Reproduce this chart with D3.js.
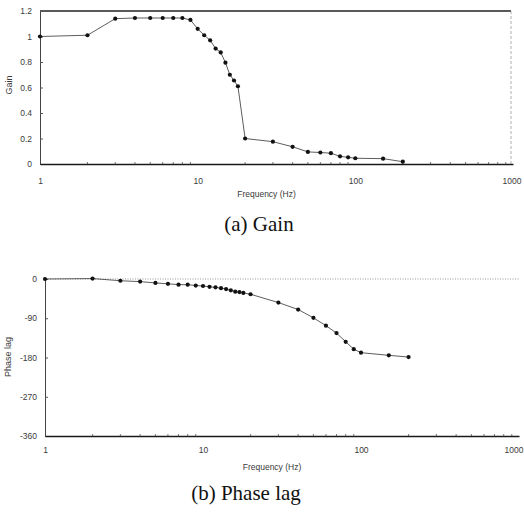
<!DOCTYPE html>
<html><head><meta charset="utf-8">
<script src="https://cdn.jsdelivr.net/npm/d3@7"></script>
<style>
html,body{margin:0;padding:0;background:#fff;}
svg{display:block;}
</style></head>
<body>
<script>
// ---- data ----
const freqGain = [1,2,3,4,5,6,7,8,9,10,11,12,13,14,15,16,17,18,20,30,40,50,60,70,80,90,100,150,200];
const gainValues = [1.00,1.01,1.14,1.145,1.145,1.145,1.145,1.145,1.13,1.06,1.01,0.97,0.905,0.875,0.795,0.70,0.655,0.61,0.20,0.175,0.135,0.095,0.09,0.085,0.06,0.052,0.045,0.042,0.018];
const freqPhase = [1,2,3,4,5,6,7,8,9,10,11,12,13,14,15,16,17,18,20,30,40,50,60,70,80,90,100,150,200];
const phaseValues = [0,1,-4,-6,-9,-11,-13,-13,-15,-16,-18,-19,-21,-23,-26,-29,-30,-32,-35,-54,-70,-89,-107,-124,-144,-161,-169,-175,-179];
const freqTicks = [1,10,100,1000];
const freqTickLabels = ["1","10","100","1000"];
const gainTicks = [0,0.2,0.4,0.6,0.8,1,1.2];
const gainTickLabels = ["0","0.2","0.4","0.6","0.8","1","1.2"];
const phaseTicks = [0,-90,-180,-270,-360];
const phaseTickLabels = ["0","-90","-180","-270","-360"];

const W = 524, H = 521;
const svg = d3.select("body").append("svg").attr("width", W).attr("height", H);
const tickFont = "'Liberation Sans', Arial, sans-serif";
const textCol = "#3a3a3a";

function minorTicks() {
  const out = [];
  for (let d = 1; d < 1000; d *= 10) for (let k = 2; k <= 9; k++) out.push(d * k);
  return out;
}

function panel(opt) {
  const g = svg.append("g");
  const x = d3.scaleLog().domain([1, 1000]).range(opt.xr);
  const y = d3.scaleLinear().domain(opt.yd).range(opt.yr);
  const [x0, x1] = opt.xr;
  const yBottom = opt.yr[0], yTop = opt.yr[1];

  // top line / gridline
  g.append("line").attr("x1", x0).attr("x2", opt.topEnd).attr("y1", yTop).attr("y2", yTop)
    .attr("stroke", opt.topColor).attr("stroke-width", opt.topWidth)
    .attr("stroke-dasharray", opt.topDash || null);
  if (opt.rightBorder) {
    g.append("line").attr("x1", opt.rightBorder).attr("x2", opt.rightBorder).attr("y1", yTop).attr("y2", yBottom)
      .attr("stroke", "#9a9a9a").attr("stroke-width", 0.8).attr("stroke-dasharray", "3,2");
  }

  // left axis
  const yAxis = d3.axisLeft(y).tickValues(opt.yTicks).tickFormat((d, i) => opt.yLabels[i]).tickSize(-3).tickPadding(8);
  const ya = g.append("g").attr("transform", `translate(${x0},0)`).call(yAxis);
  ya.select(".domain").attr("stroke", "#444").attr("stroke-width", 1);
  ya.selectAll(".tick line").attr("stroke", "#555");
  ya.selectAll("text").attr("font-family", tickFont).attr("font-size", 8.5).attr("fill", textCol);

  // bottom axis
  const xAxis = d3.axisBottom(x).tickValues(freqTicks).tickFormat((d, i) => freqTickLabels[i]).tickSize(0).tickPadding(opt.xPad);
  const xa = g.append("g").attr("transform", `translate(0,${yBottom})`).call(xAxis);
  xa.select(".domain").attr("stroke", "#1a1a1a").attr("stroke-width", 1.6);
  xa.selectAll("text").attr("font-family", tickFont).attr("font-size", 8.5).attr("fill", textCol);
  xa.selectAll(".tick").filter(d => d === 1000).select("text")
    .attr("text-anchor", "end").attr("dx", opt.lastDx);
  // minor ticks
  g.append("g").selectAll("line").data(minorTicks()).join("line")
    .attr("x1", d => x(d)).attr("x2", d => x(d)).attr("y1", yBottom).attr("y2", yBottom - 2)
    .attr("stroke", "#555").attr("stroke-width", 0.8);

  // axis titles
  g.append("text").attr("x", (x0 + x1) / 2 - 10).attr("y", opt.xTitleY).attr("text-anchor", "middle")
    .attr("font-family", tickFont).attr("font-size", 8.5).attr("fill", textCol).text("Frequency (Hz)");
  g.append("text").attr("transform", `translate(${opt.yTitleX},${opt.yTitleY}) rotate(-90)`).attr("text-anchor", "middle")
    .attr("font-family", tickFont).attr("font-size", 9).attr("fill", textCol).text(opt.yTitle);

  // series line
  const pts = opt.fx.map((f, i) => [x(f), y(opt.vals[i])]);
  g.append("path").attr("d", d3.line()(pts)).attr("fill", "none").attr("stroke", "#333").attr("stroke-width", 0.8);
  g.append("g").selectAll("circle").data(pts).join("circle")
    .attr("cx", d => d[0]).attr("cy", d => d[1]).attr("r", 2.1).attr("fill", "#111");

  // caption
  svg.append("text").attr("x", opt.capX).attr("y", opt.capY).attr("text-anchor", "middle")
    .attr("font-family", "'Liberation Serif', 'Times New Roman', serif").attr("font-size", 21).attr("fill", "#111")
    .text(opt.caption);
}

panel({
  xr: [40, 513], yd: [0, 1.2], yr: [164, 11],
  yTicks: gainTicks, yLabels: gainTickLabels,
  topEnd: 511, topColor: "#222", topWidth: 1.5, rightBorder: 511,
  xPad: 14, xTitleY: 197, yTitleX: 12, yTitleY: 85, yTitle: "Gain",
  fx: freqGain, vals: gainValues, caption: "(a) Gain", capX: 259, capY: 231,
  lastDx: 8
});

panel({
  xr: [45, 519], yd: [-360, 0], yr: [436, 279],
  yTicks: phaseTicks, yLabels: phaseTickLabels,
  topEnd: 519, topColor: "#888", topWidth: 0.9, topDash: "1,1.5", rightBorder: null,
  xPad: 11, xTitleY: 470, yTitleX: 11, yTitleY: 357, yTitle: "Phase lag",
  fx: freqPhase, vals: phaseValues, caption: "(b) Phase lag", capX: 246, capY: 500,
  lastDx: 4
});
</script>
</body></html>
